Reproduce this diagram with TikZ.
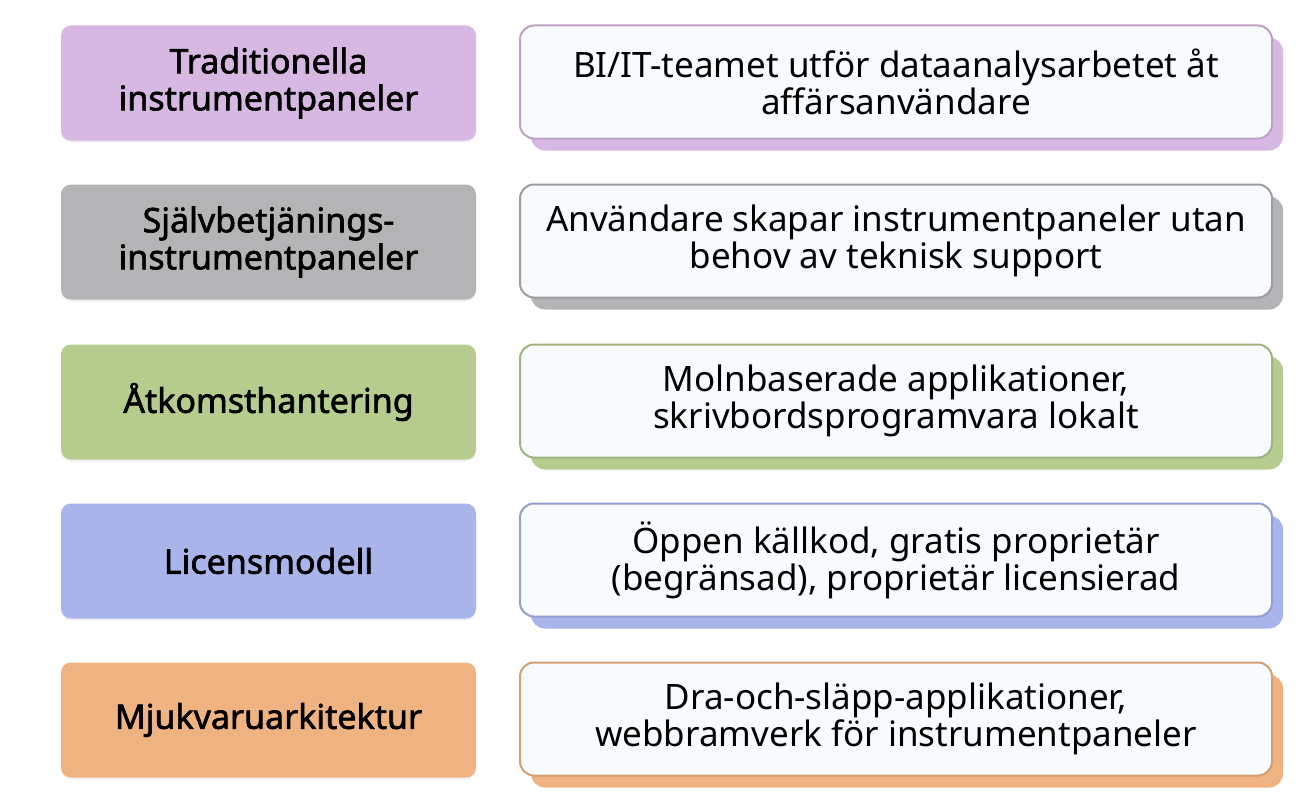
\documentclass[tikz,border=0pt]{standalone}
\usepackage{fontspec}
\setmainfont{Noto Sans}[AutoFakeBold=1.8]
\definecolor{cpurple}{HTML}{D6B8E2}
\definecolor{cgray}{HTML}{B4B4B7}
\definecolor{cgreen}{HTML}{B5CC8E}
\definecolor{cblue}{HTML}{A9B4EA}
\definecolor{corange}{HTML}{EFB382}
\definecolor{cwhite}{HTML}{F8FBFD}
\tikzset{
  leftbox/.style={rounded corners=10pt, minimum width=415pt, minimum height=115pt, align=center,
    font=\fontsize{34}{37}\selectfont\bfseries, inner sep=0pt},
  rightbox/.style={rounded corners=14pt, minimum width=752pt, minimum height=113pt, align=center,
    font=\fontsize{35}{37}\selectfont, inner sep=0pt, fill=cwhite, line width=2pt},
  shadowbox/.style={rounded corners=14pt, minimum width=752pt, minimum height=113pt, inner sep=0pt},
}
\begin{document}
\begin{tikzpicture}[x=1pt,y=-1pt]
\useasboundingbox (0,0) rectangle (1304,800);
\fill[white] (0,0) rectangle (1304,800);
\foreach \i/\y/\c/\l/\r in {
  1/83/cpurple/{Traditionella\\instrumentpaneler}/{BI/IT-teamet utför dataanalysarbetet åt\\affärsanvändare},
  2/242/cgray/{Självbetjänings-\\instrumentpaneler}/{Användare skapar instrumentpaneler utan\\behov av teknisk support},
  3/402/cgreen/{Åtkomsthantering}/{Molnbaserade applikationer,\\skrivbordsprogramvara lokalt},
  4/561/cblue/{Licensmodell}/{Öppen källkod, gratis proprietär\\(begränsad), proprietär licensierad},
  5/720/corange/{Mjukvaruarkitektur}/{Dra-och-släpp-applikationer,\\webbramverk för instrumentpaneler}}
{
  \node[leftbox, fill=black, opacity=0.06] (ls\i) at (268.5,\y+2) {};
  \node[leftbox, fill=\c] (l\i) at (268.5,\y) {\l};
  \node[shadowbox, fill=\c] (s\i) at (907,\y+11) {};
  \node[rightbox, draw=\c!88!black] (r\i) at (896,\y-1) {\r};
}
\end{tikzpicture}
\end{document}
